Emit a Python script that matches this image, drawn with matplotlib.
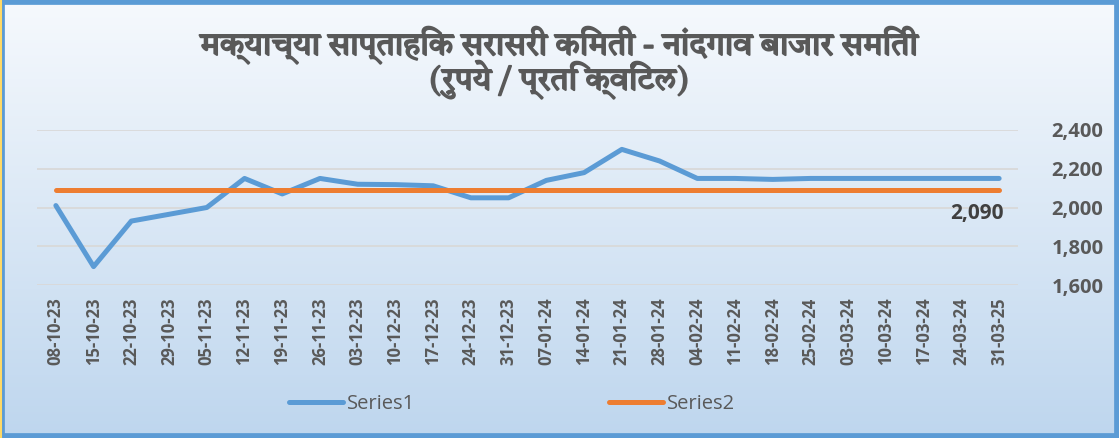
import matplotlib
matplotlib.use('Agg')
import matplotlib.pyplot as plt
import numpy as np
from matplotlib import font_manager as fm
from matplotlib.lines import Line2D
import matplotlib.patheffects as pe

# ---------------- data ----------------
dates = ["08-10-23", "15-10-23", "22-10-23", "29-10-23", "05-11-23", "12-11-23",
         "19-11-23", "26-11-23", "03-12-23", "10-12-23", "17-12-23", "24-12-23",
         "31-12-23", "07-01-24", "14-01-24", "21-01-24", "28-01-24", "04-02-24",
         "11-02-24", "18-02-24", "25-02-24", "03-03-24", "10-03-24", "17-03-24",
         "24-03-24", "31-03-25"]
series1 = [2010, 1695, 1930, 1965, 2000, 2150, 2070, 2150, 2120, 2118, 2112, 2050,
           2050, 2140, 2180, 2300, 2240, 2150, 2150, 2145, 2150, 2150, 2150, 2150,
           2150, 2150]
series2 = [2090] * len(dates)
yticks = [1600, 1800, 2000, 2200, 2400]
title_line1 = "मक्याच्या साप्ताहिक सरासरी किमती - नांदगाव बाजार समिती"
title_line2 = "(रुपये / प्रति क्विंटल)"

# ---------------- fonts ----------------
def find_deva():
    found = []
    try:
        from fontTools.ttLib import TTFont
    except Exception:
        return found
    for f in fm.findSystemFonts():
        try:
            tt = TTFont(f, fontNumber=0, lazy=True)
            cmap = tt.getBestCmap()
            if cmap and 0x0915 in cmap:
                found.append(f)
        except Exception:
            pass
    return found

deva_family = None
for f in sorted(find_deva()):
    try:
        fm.fontManager.addfont(f)
        name = fm.FontProperties(fname=f).get_name()
        if deva_family is None or 'Devanagari' in name:
            deva_family = name
    except Exception:
        pass

base = 'Open Sans'
title_fam = [deva_family, base, 'DejaVu Sans'] if deva_family else [base, 'DejaVu Sans']

W, H = 1119, 438
fig = plt.figure(figsize=(W / 100, H / 100), dpi=100)

# background gradient
bg = fig.add_axes([0, 0, 1, 1], zorder=-10)
grad = np.linspace(0, 1, 256).reshape(-1, 1)
top = np.array([0.965, 0.978, 0.992])
bot = np.array([0.745, 0.839, 0.933])
img = top[None, None, :] * (1 - grad[:, :, None]) + bot[None, None, :] * grad[:, :, None]
bg.imshow(img, aspect='auto', extent=[0, 1, 0, 1], origin='upper')
bg.set_xlim(0, 1); bg.set_ylim(0, 1)
bg.axis('off')
bg.add_patch(plt.Rectangle((0, 0), 1, 1, transform=bg.transAxes, fill=False,
                           edgecolor='#5b9bd5', lw=7, clip_on=False))
bg.plot([0.0008, 0.0008], [0, 1], color='#ffd966', lw=1.5, transform=bg.transAxes)

ax = fig.add_axes([37 / W, 1 - 285 / H, (1018 - 37) / W, (285 - 130) / H])
ax.patch.set_alpha(0)
x = np.arange(len(dates))
ax.plot(x, series1, color='#5b9bd5', lw=3.6, solid_capstyle='round',
        solid_joinstyle='round', label='Series1', zorder=3)
ax.plot(x, series2, color='#ed7d31', lw=3.6, solid_capstyle='round',
        label='Series2', zorder=4)
ax.set_xlim(-0.5, len(dates) - 0.5)
ax.set_ylim(1600, 2400)
ax.set_yticks(yticks)
ax.set_yticklabels([f"{v:,}" for v in yticks])
ax.yaxis.tick_right()
ax.set_xticks(x)
ax.set_xticklabels(dates, rotation=90)
for s in ax.spines.values():
    s.set_visible(False)
ax.grid(axis='y', color='#d9d9d9', lw=1.3)
ax.set_axisbelow(True)
ax.tick_params(length=0)
for lab in ax.get_yticklabels():
    lab.set_fontfamily(base); lab.set_fontweight('bold'); lab.set_fontsize(14.5)
    lab.set_color('#595959'); lab.set_horizontalalignment('right')
ax.tick_params(axis='y', pad=61.5)
for lab in ax.get_xticklabels():
    lab.set_fontfamily(base); lab.set_fontweight('bold'); lab.set_fontsize(12)
    lab.set_color('#595959')
ax.tick_params(axis='x', pad=9)

# data label
ax.annotate(f"{series2[-1]:,}", xy=(x[-1], series2[-1]), xytext=(3, -17),
            textcoords='offset points', ha='right', va='center',
            fontfamily=base, fontweight='bold', fontsize=15, color='#404040')

# title (faux bold via stroke)
bold_fx = [pe.withStroke(linewidth=1.3, foreground='#595959')]
fig.text(0.5, 1 - 45 / H, title_line1, ha='center', va='center', family=title_fam,
         fontweight='bold', fontsize=23, color='#595959', path_effects=bold_fx)
fig.text(0.5, 1 - 80 / H, title_line2, ha='center', va='center', family=title_fam,
         fontweight='bold', fontsize=23, color='#595959', path_effects=bold_fx)

handles = [Line2D([], [], color='#5b9bd5', lw=3.6, solid_capstyle='round'),
           Line2D([], [], color='#ed7d31', lw=3.6, solid_capstyle='round')]
fig.legend(handles, ['Series1', 'Series2'], loc='center', bbox_to_anchor=(512 / W, 1 - 404 / H),
           ncol=2, frameon=False, prop={'family': base, 'size': 14.5},
           labelcolor='#595959', handlelength=2.7, handletextpad=0.2, columnspacing=9.6)

fig.savefig('out.png', dpi=100)
